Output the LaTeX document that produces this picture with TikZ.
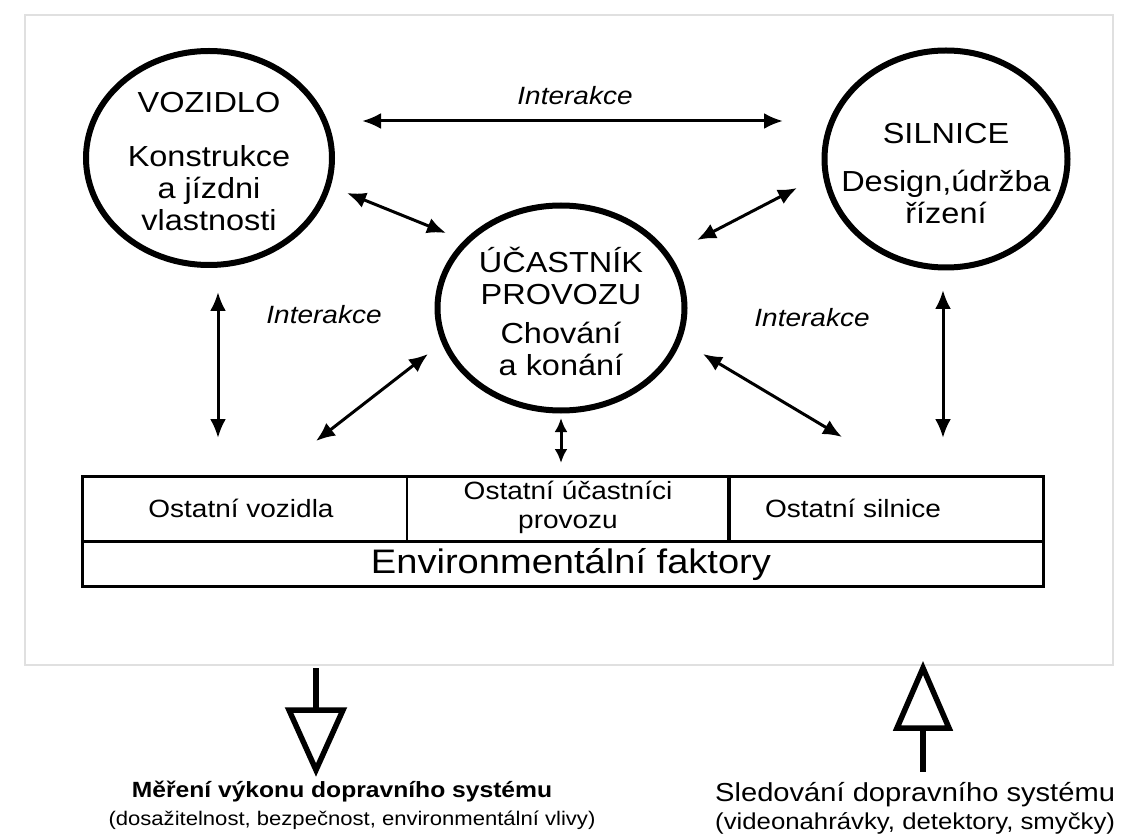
\documentclass[tikz,border=0pt]{standalone}
\usepackage{fontspec}
\setmainfont{Liberation Sans}[FakeStretch=1.12]
\usetikzlibrary{shapes.geometric,arrows.meta}
\tikzset{
  bigcirc/.style={ellipse, draw, line width=6pt, inner sep=0pt},
  ctext/.style={align=center, inner sep=0pt, font=\fontsize{29}{32}\selectfont},
  dbl/.style={{Latex[length=19pt,width=16pt]}-{Latex[length=19pt,width=16pt]}, line width=3pt},
  dblshort/.style={{Latex[length=14pt,width=13pt]}-{Latex[length=14pt,width=13pt]}, line width=3pt},
  ilabel/.style={inner sep=0pt, font=\fontsize{25}{28}\selectfont\itshape},
  cell/.style={align=center, inner sep=0pt, font=\fontsize{25}{29}\selectfont},
  tline/.style={line width=3pt},
  hollow/.style={line width=5.5pt, line join=miter},
  frame/.style={draw=black!12, line width=2pt},
}
\begin{document}
\begin{tikzpicture}[x=1pt,y=-1pt]
\useasboundingbox (0,0) rectangle (1125,834);
\fill[white] (0,0) rectangle (1125,834);
\draw[frame] (25,15) rectangle (1113,665);

% circles
\node[bigcirc, minimum width=246, minimum height=214] (veh) at (209,158) {};
\node[bigcirc, minimum width=243, minimum height=217] (road) at (946,159) {};
\node[bigcirc, minimum width=247, minimum height=205] (user) at (561,308) {};

\node[ctext] (veh-t) at (209,162) {VOZIDLO\\[22pt]Konstrukce\\a jízdni\\vlastnosti};
\node[ctext] (road-t) at (946,174) {SILNICE\\[16pt]Design,údržba\\řízení};
\node[ctext] (user-t) at (561,311) {ÚČASTNÍK\\PROVOZU\\[7pt]Chování\\a konání};

% table
\coordinate (tl) at (82,476);
\coordinate (br) at (1043,586);
\draw[tline] (tl) rectangle (br);
\draw[tline] (82,541) -- (1043,541);
\draw[line width=2.5pt] (407,476) -- (407,541);
\draw[line width=4.5pt] (729,476) -- (729,541);
\node[cell] (c1) at (241,508) {Ostatní vozidla};
\node[cell] (c2) at (568,507) {Ostatní účastníci\\provozu};
\node[cell] (c3) at (853,508) {Ostatní silnice};
\node[inner sep=0pt, font=\fontsize{34}{36}\selectfont] (env) at (571,565) {Environmentální faktory};

% interaction labels
\node[ilabel] (i1) at (575,96) {Interakce};
\node[ilabel] (i2) at (324,315) {Interakce};
\node[ilabel] (i3) at (812,318) {Interakce};

% arrow end points
\coordinate (a1s) at (362,121); \coordinate (a1e) at (783,121);
\coordinate (a2s) at (347,193); \coordinate (a2e) at (446,233);
\coordinate (a3s) at (697,240); \coordinate (a3e) at (797,188);
\coordinate (a4s) at (218,292); \coordinate (a4e) at (218,438);
\coordinate (a5s) at (316,441); \coordinate (a5e) at (428,354);
\coordinate (a6s) at (561,418); \coordinate (a6e) at (561,463);
\coordinate (a7s) at (703,354); \coordinate (a7e) at (842,437);
\coordinate (a8s) at (943,290); \coordinate (a8e) at (943,438);

\draw[dbl] (a1s) -- (a1e);
\draw[dbl] (a2s) -- (a2e);
\draw[dbl] (a3s) -- (a3e);
\draw[dbl] (a4s) -- (a4e);
\draw[dbl] (a5s) -- (a5e);
\draw[dblshort] (a6s) -- (a6e);
\draw[dbl] (a7s) -- (a7e);
\draw[dbl] (a8s) -- (a8e);

% big hollow arrows
\draw[hollow] (316,668) -- (316,710);
\draw[hollow] (289,710) -- (343,710) -- (316,770) -- cycle;
\draw[hollow] (923,668) -- (949,728) -- (897,728) -- cycle;
\draw[hollow] (923,728) -- (923,772);

% bottom texts
\node[inner sep=0pt, font=\fontsize{22}{24}\selectfont\bfseries] (meas) at (342,792) {Měření výkonu dopravního systému};
\node[inner sep=0pt, font=\fontsize{19.7}{22}\selectfont] (meas2) at (352,820) {(dosažitelnost, bezpečnost, environmentální vlivy)};
\node[inner sep=0pt, anchor=west, font=\fontsize{26}{28}\selectfont] (mon) at (715,795) {Sledování dopravního systému};
\node[inner sep=0pt, anchor=west, font=\fontsize{23}{25}\selectfont] (mon2) at (715,823) {(videonahrávky, detektory, smyčky)};
\end{tikzpicture}
\end{document}
